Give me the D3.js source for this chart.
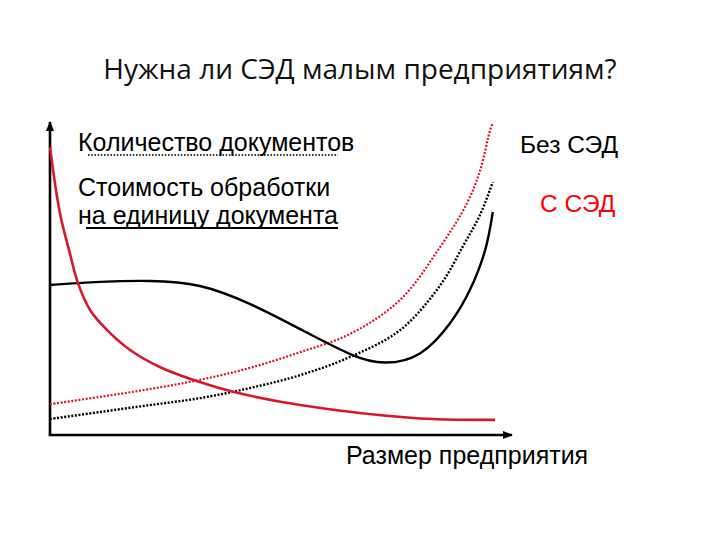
<!DOCTYPE html>
<html>
<head>
<meta charset="utf-8">
<script src="https://cdn.jsdelivr.net/npm/d3@7"></script>
<style>
  body { margin: 0; background: #fff; }
  svg { display: block; }
</style>
</head>
<body>
<svg id="chart" width="720" height="540"></svg>
<script>
/* Sketch chart: documents count and cost per document vs company size */

// x = company size, y = value (both in 0..100 relative units)
const redSolidX = [0, 2.2, 4.4, 6.2, 8.9, 12.7, 17.8, 24.4, 33.3, 40.7, 55.6, 80.7, 98.9];
const redSolidY = [91.4, 70.5, 57.8, 48.3, 39.7, 33.3, 27.0, 21.6, 16.8, 13.7, 9.5, 5.4, 4.8];

const blackSolidX = [0, 11.1, 22.2, 33.3, 44.4, 55.6, 66.7, 74.4, 82.2, 88.9, 93.3, 96.7, 98.4];
const blackSolidY = [47.6, 48.6, 48.9, 47.3, 41.6, 33.6, 25.7, 23.0, 25.9, 35.5, 46.0, 58.7, 70.8];

const blackDotX = [0, 11.1, 22.2, 33.3, 44.4, 55.6, 66.7, 77.8, 86.7, 91.8, 95.6, 98.4];
const blackDotY = [5.1, 7.3, 9.5, 11.7, 14.9, 19.0, 24.8, 33.3, 47.5, 60.0, 70.0, 80.3];

const redDotX = [0, 11.1, 22.2, 33.3, 44.4, 55.6, 66.7, 77.8, 86.7, 92.7, 95.6, 97.8, 98.4];
const redDotY = [9.8, 12.1, 14.6, 17.5, 21.3, 26.3, 32.1, 42.9, 59.7, 73.7, 84.1, 96.8, 99.0];

const titleText = 'Нужна ли СЭД малым предприятиям?';
const legendCount = 'Количество документов';
const legendCost = ['Стоимость обработки', 'на единицу документа'];
const labelWithout = 'Без СЭД';
const labelWith = 'С СЭД';
const xAxisLabel = 'Размер предприятия';

const RED = '#d7182a';

const svg = d3.select('#chart');

const x = d3.scaleLinear().domain([0, 100]).range([50, 500]);
const y = d3.scaleLinear().domain([0, 100]).range([435, 120]);

// arrow heads
const defs = svg.append('defs');
defs.append('marker')
  .attr('id', 'arrow')
  .attr('viewBox', '0 0 10 10')
  .attr('refX', 9).attr('refY', 5)
  .attr('markerWidth', 4).attr('markerHeight', 4)
  .attr('orient', 'auto')
  .append('path')
  .attr('d', 'M0,1 L10,5 L0,9 Z')
  .attr('fill', '#000');

// axes: no ticks, only the domain line with an arrow
const xAxisScale = x.copy().range([50, 512]);
const yAxisScale = y.copy().range([435, 122]);

const gx = svg.append('g')
  .attr('transform', `translate(0,${y(0)})`)
  .call(d3.axisBottom(xAxisScale).tickValues([]).tickSizeOuter(0));
const gy = svg.append('g')
  .attr('transform', `translate(${x(0)},0)`)
  .call(d3.axisLeft(yAxisScale).tickValues([]).tickSizeOuter(0));

[gx, gy].forEach(g => {
  g.select('.domain')
    .attr('stroke', '#000')
    .attr('stroke-width', 2.6)
    .attr('marker-end', 'url(#arrow)');
});
// redraw domains so the arrows point up and right
gy.select('.domain').attr('d', `M0,${yAxisScale.range()[0]}V${yAxisScale.range()[1]}`);
gx.select('.domain').attr('d', `M${xAxisScale.range()[0] - 1.3},0H${xAxisScale.range()[1]}`);

function series(xs, ys) {
  return xs.map((v, i) => [v, ys[i]]);
}

const curves = [
  { data: series(redDotX, redDotY), color: RED, width: 2.2, dash: '2,1.6', curve: d3.curveCatmullRom.alpha(0.5) },
  { data: series(blackDotX, blackDotY), color: '#000', width: 2.4, dash: '2,1.6', curve: d3.curveCatmullRom.alpha(0.5) },
  { data: series(blackSolidX, blackSolidY), color: '#000', width: 2.4, dash: null, curve: d3.curveNatural },
  { data: series(redSolidX, redSolidY), color: RED, width: 2.6, dash: null, curve: d3.curveCatmullRom.alpha(0.5) }
];

svg.append('g')
  .selectAll('path')
  .data(curves)
  .join('path')
  .attr('d', d => d3.line().x(p => x(p[0])).y(p => y(p[1])).curve(d.curve)(d.data))
  .attr('fill', 'none')
  .attr('stroke', d => d.color)
  .attr('stroke-width', d => d.width)
  .attr('stroke-dasharray', d => d.dash);

// title
svg.append('text')
  .attr('x', 360).attr('y', 79)
  .attr('text-anchor', 'middle')
  .attr('font-family', '"Open Sans", "Noto Sans", sans-serif')
  .attr('font-size', 28)
  .attr('fill', '#111')
  .text(titleText);

const sans = '"Liberation Sans", Arial, sans-serif';

// legend text
svg.append('text')
  .attr('x', 78).attr('y', 151)
  .attr('font-family', sans).attr('font-size', 25)
  .text(legendCount);
svg.append('line')
  .attr('x1', 88).attr('x2', 338)
  .attr('y1', 155).attr('y2', 155)
  .attr('stroke', '#000').attr('stroke-width', 1.6)
  .attr('stroke-dasharray', '1.6,1.6');

svg.append('g')
  .selectAll('text')
  .data(legendCost)
  .join('text')
  .attr('x', 78)
  .attr('y', (d, i) => 196 + i * 28)
  .attr('font-family', sans).attr('font-size', 25)
  .text(d => d);
svg.append('line')
  .attr('x1', 86).attr('x2', 338)
  .attr('y1', 228).attr('y2', 228)
  .attr('stroke', '#000').attr('stroke-width', 1.8);

svg.append('text')
  .attr('x', 520).attr('y', 153)
  .attr('font-family', sans).attr('font-size', 24.5)
  .text(labelWithout);

svg.append('text')
  .attr('x', 540).attr('y', 212)
  .attr('font-family', sans).attr('font-size', 24.5)
  .attr('fill', '#ff0000')
  .text(labelWith);

svg.append('text')
  .attr('x', 346).attr('y', 464)
  .attr('font-family', sans).attr('font-size', 25)
  .text(xAxisLabel);
</script>
</body>
</html>
